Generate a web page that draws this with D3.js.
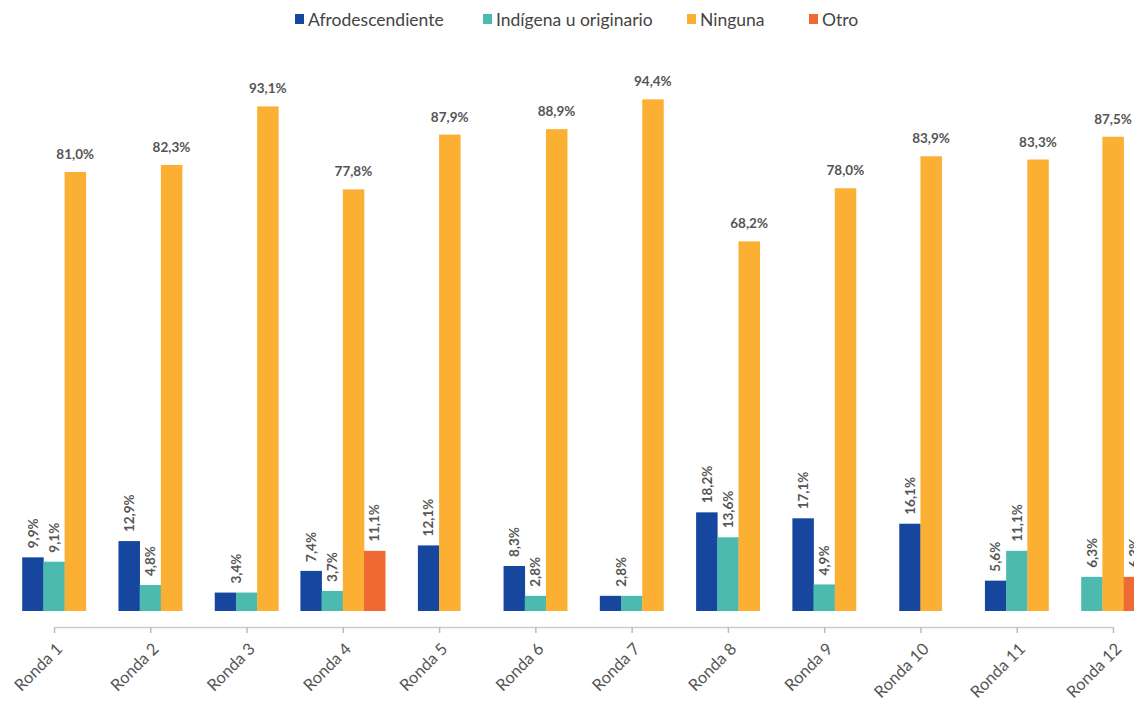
<!DOCTYPE html>
<html><head><meta charset="utf-8">
<script src="https://cdn.jsdelivr.net/npm/d3@7"></script>
<style>
html,body{margin:0;padding:0;background:#fff;overflow:hidden}
text{font-family:Lato,"Open Sans",sans-serif}
</style></head>
<body><svg id="c" width="1134" height="704"></svg>
<script>
const categories = ["Ronda 1","Ronda 2","Ronda 3","Ronda 4","Ronda 5","Ronda 6","Ronda 7","Ronda 8","Ronda 9","Ronda 10","Ronda 11","Ronda 12"];
const seriesNames = ["Afrodescendiente","Indígena u originario","Ninguna","Otro"];
const afro    = [9.9, 12.9, 3.4, 7.4, 12.1, 8.3, 2.8, 18.2, 17.1, 16.1, 5.6, null];
const indigena= [9.1, 4.8, 3.4, 3.7, null, 2.8, 2.8, 13.6, 4.9, null, 11.1, 6.3];
const ninguna = [81.0, 82.3, 93.1, 77.8, 87.9, 88.9, 94.4, 68.2, 78.0, 83.9, 83.3, 87.5];
const otro    = [null, null, null, 11.1, null, null, null, null, null, null, null, 6.3];
const colors  = ["#17469e","#4dbab0","#fbb034","#ef6a33"];

const values = [afro, indigena, ninguna, otro];
const svg = d3.select("#c");
const x = d3.scalePoint().domain(categories).range([54, 1113]);
const y = d3.scaleLinear().domain([0, 100]).range([611, 69]);
const bw = 21.2;
const fmt = v => d3.format(".1f")(v).replace(".", ",") + "%";

// legend
const legendX = [295, 483, 687, 809];
const lg = svg.append("g");
seriesNames.forEach((n, i) => {
  lg.append("rect").attr("x", legendX[i]).attr("y", 14).attr("width", 9).attr("height", 10).attr("fill", colors[i]);
  lg.append("text").attr("x", legendX[i] + 13).attr("y", 25.5).attr("font-size", 17.5).attr("fill", "#444").text(n);
});

// bars
categories.forEach((c, ci) => {
  const present = [];
  values.forEach((arr, si) => { if (arr[ci] != null) present.push(si); });
  const start = x(c) - present.length * bw / 2;
  const g = svg.append("g");
  const items = present.map((si, k) => ({si, v: values[si][ci], x0: start + k * bw}));
  g.selectAll("rect").data(items).join("rect")
    .attr("x", d => d.x0).attr("width", bw + 0.3)
    .attr("y", d => y(d.v)).attr("height", d => y(0) - y(d.v))
    .attr("fill", d => colors[d.si]);
  // labels (merge equal adjacent values)
  const labels = [];
  items.forEach((d, k) => {
    const prev = labels[labels.length - 1];
    if (prev && prev.v === d.v && d.si !== 2 && prev.si !== 2) {
      prev.cx = (prev.cx + d.x0 + bw / 2) / 2;
    } else labels.push({si: d.si, v: d.v, cx: d.x0 + bw / 2});
  });
  labels.forEach(l => {
    if (l.si === 2) {
      g.append("text").attr("x", l.cx).attr("y", y(l.v) - 13)
        .attr("text-anchor", "middle").attr("font-size", 13.5).attr("font-weight", "bold")
        .attr("fill", "#555").text(fmt(l.v));
    } else {
      g.append("text").attr("transform", `translate(${l.cx + 4.8},${y(l.v) - 9}) rotate(-90)`)
        .attr("text-anchor", "start").attr("font-size", 13.5).attr("font-weight", "bold")
        .attr("fill", "#555").text(fmt(l.v));
    }
  });
});

// axis
const ax = svg.append("g").attr("transform", "translate(0,627)")
  .call(d3.axisBottom(x).tickSize(6).tickSizeOuter(0));
ax.select(".domain").attr("stroke", "#ccc").attr("stroke-width", 1.5);
ax.selectAll(".tick line").attr("stroke", "#bbb").attr("stroke-width", 1.5);
ax.selectAll(".tick text")
  .attr("font-size", 16.5).attr("fill", "#555")
  .attr("text-anchor", "end").attr("dy", 0).attr("y", 0)
  .attr("transform", "translate(9,23) rotate(-45)");
</script></body></html>
